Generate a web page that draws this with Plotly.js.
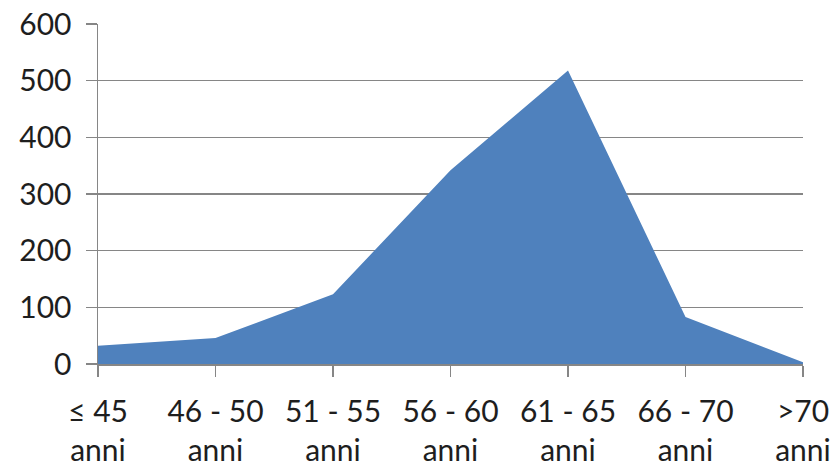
<!DOCTYPE html>
<html>
<head>
<meta charset="utf-8">
<script src="https://cdn.plot.ly/plotly-3.0.1.min.js"></script>
<style>html,body{margin:0;padding:0;background:#fff;}#chart{width:837px;height:469px;}</style>
</head>
<body>
<div id="chart"></div>
<script>
const categories = ["≤ 45<br>anni", "46 - 50<br>anni", "51 - 55<br>anni", "56 - 60<br>anni", "61 - 65<br>anni", "66 - 70<br>anni", ">70<br>anni"];
const values = [32, 46, 123, 342, 518, 83, 3];
const yTicks = [0, 100, 200, 300, 400, 500, 600];

const trace = {
  x: categories,
  y: values,
  type: 'scatter',
  mode: 'lines',
  fill: 'tozeroy',
  fillcolor: '#4F81BD',
  line: {width: 0, color: '#4F81BD'},
  hoverinfo: 'x+y'
};

const fnt = {family: 'Lato, "Open Sans", sans-serif', size: 30, color: '#1e1e1e'};

const layout = {
  width: 837,
  height: 469,
  margin: {l: 98, r: 34, t: 24, b: 105},
  paper_bgcolor: '#ffffff',
  plot_bgcolor: '#ffffff',
  showlegend: false,
  font: fnt,
  xaxis: {
    type: 'category',
    range: [0, categories.length - 1],
    showgrid: false,
    zeroline: false,
    showline: true,
    linecolor: '#868686',
    linewidth: 1.5,
    ticks: 'outside',
    ticklen: 11,
    tickwidth: 1.5,
    tickcolor: '#868686',
    ticklabelstandoff: 9,
    tickfont: fnt,
    fixedrange: true
  },
  yaxis: {
    range: [0, 600],
    tickvals: yTicks,
    ticktext: yTicks.map(String),
    showgrid: true,
    gridcolor: '#868686',
    gridwidth: 1.5,
    zeroline: false,
    showline: true,
    linecolor: '#868686',
    linewidth: 1.5,
    ticks: 'outside',
    ticklen: 11,
    tickwidth: 1.5,
    tickcolor: '#868686',
    ticklabelstandoff: 8,
    tickfont: fnt,
    fixedrange: true
  }
};

Plotly.newPlot('chart', [trace], layout, {displayModeBar: false, staticPlot: true});
</script>
</body>
</html>
